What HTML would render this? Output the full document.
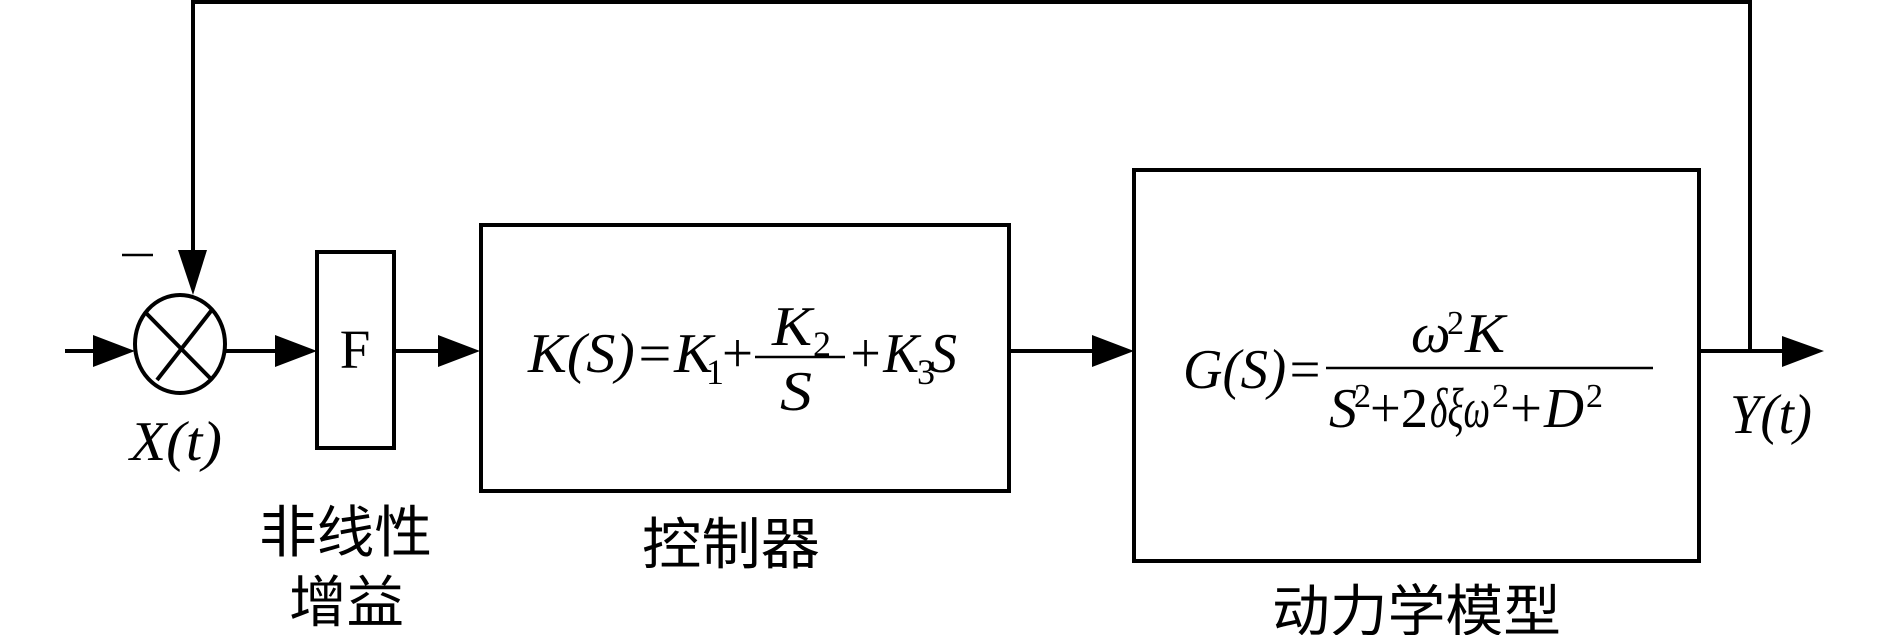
<!DOCTYPE html>
<html><head><meta charset="utf-8"><style>
html,body{margin:0;padding:0;background:#fff;}
svg{display:block;}
text{font-family:"Liberation Serif","Noto Serif CJK SC",serif;fill:#000;}
.i{font-style:italic;}
.cn{font-family:"Liberation Serif","Noto Sans CJK SC",sans-serif;}
</style></head><body>
<svg width="1890" height="635" viewBox="0 0 1890 635" xmlns="http://www.w3.org/2000/svg">
<g stroke="#000" stroke-width="4" fill="none">
  <!-- feedback -->
  <polyline points="1750,351 1750,2 193,2 193,252"/>
  <!-- main line segments -->
  <line x1="65" y1="351" x2="100" y2="351"/>
  <line x1="225" y1="351" x2="280" y2="351"/>
  <line x1="394" y1="351" x2="442" y2="351"/>
  <line x1="1009" y1="351" x2="1095" y2="351"/>
  <line x1="1699" y1="351" x2="1785" y2="351"/>
  <!-- summing junction -->
  <ellipse cx="180" cy="344" rx="45" ry="49"/>
  <line x1="146" y1="313" x2="210" y2="378"/>
  <line x1="211" y1="311" x2="157" y2="380"/>
  <!-- boxes -->
  <rect x="317" y="252" width="77" height="196"/>
  <rect x="481" y="225" width="528" height="266"/>
  <rect x="1134" y="170" width="565" height="391"/>
  <!-- fraction bars -->
  <line x1="755" y1="357" x2="845" y2="357" stroke-width="2.5"/>
  <line x1="1326" y1="368" x2="1653" y2="368" stroke-width="2.5"/>
  <!-- minus -->
  <line x1="122" y1="255" x2="153" y2="255" stroke-width="2.5"/>
</g>
<g fill="#000">
  <polygon points="93,335 135,351 93,367"/>
  <polygon points="178,250 207,250 193,295"/>
  <polygon points="275,335 317,351 275,367"/>
  <polygon points="438,335 480,351 438,367"/>
  <polygon points="1092,335 1134,351 1092,367"/>
  <polygon points="1782,336 1824,351 1782,367"/>
</g>
<text x="355" y="368" font-size="55" text-anchor="middle">F</text>
<text class="i" x="130" y="460" font-size="56" textLength="92" lengthAdjust="spacingAndGlyphs">X(<tspan>t</tspan>)</text>
<text class="i" x="1730" y="433" font-size="56" textLength="82" lengthAdjust="spacingAndGlyphs">Y(t)</text>
<!-- K(S) formula -->
<text class="i" x="528" y="372" font-size="56" textLength="185" lengthAdjust="spacingAndGlyphs">K(S)=K</text>
<text x="706" y="384" font-size="36">1</text>
<text x="722" y="372" font-size="56" textLength="31" lengthAdjust="spacingAndGlyphs">+</text>
<text class="i" x="772" y="345" font-size="56" textLength="40" lengthAdjust="spacingAndGlyphs">K</text>
<text x="813" y="356" font-size="36">2</text>
<text class="i" x="780" y="410" font-size="56" textLength="32" lengthAdjust="spacingAndGlyphs">S</text>
<text class="i" x="847" y="372" font-size="56" textLength="72" lengthAdjust="spacingAndGlyphs">+K</text>
<text x="917" y="384" font-size="36">3</text>
<text class="i" x="930" y="372" font-size="56" textLength="27" lengthAdjust="spacingAndGlyphs">S</text>
<!-- G(S) formula -->
<text class="i" x="1183" y="388" font-size="56" textLength="140" lengthAdjust="spacingAndGlyphs">G(S)=</text>
<text class="i" x="1411" y="352" font-size="56">ω</text>
<text x="1447" y="334" font-size="34">2</text>
<text class="i" x="1465" y="352" font-size="56" textLength="40" lengthAdjust="spacingAndGlyphs">K</text>
<text class="i" x="1329" y="427" font-size="56">S</text>
<text x="1354" y="407" font-size="34">2</text>
<text x="1370" y="427" font-size="56" textLength="58" lengthAdjust="spacingAndGlyphs">+2</text>
<text class="i" x="1430" y="427" font-size="56" textLength="60" lengthAdjust="spacingAndGlyphs">δξω</text>
<text x="1492" y="407" font-size="34">2</text>
<text x="1510" y="427" font-size="56" textLength="32" lengthAdjust="spacingAndGlyphs">+</text>
<text class="i" x="1544" y="427" font-size="56" textLength="40" lengthAdjust="spacingAndGlyphs">D</text>
<text x="1586" y="407" font-size="34">2</text>
<!-- Chinese labels -->
<text class="cn" x="259" y="552" font-size="56" textLength="173" lengthAdjust="spacingAndGlyphs">非线性</text>
<text class="cn" x="289" y="622" font-size="56" textLength="115" lengthAdjust="spacingAndGlyphs">增益</text>
<text class="cn" x="642" y="564" font-size="56" textLength="178" lengthAdjust="spacingAndGlyphs">控制器</text>
<text class="cn" x="1272" y="631" font-size="56" textLength="289" lengthAdjust="spacingAndGlyphs">动力学模型</text>
</svg>
</body></html>
